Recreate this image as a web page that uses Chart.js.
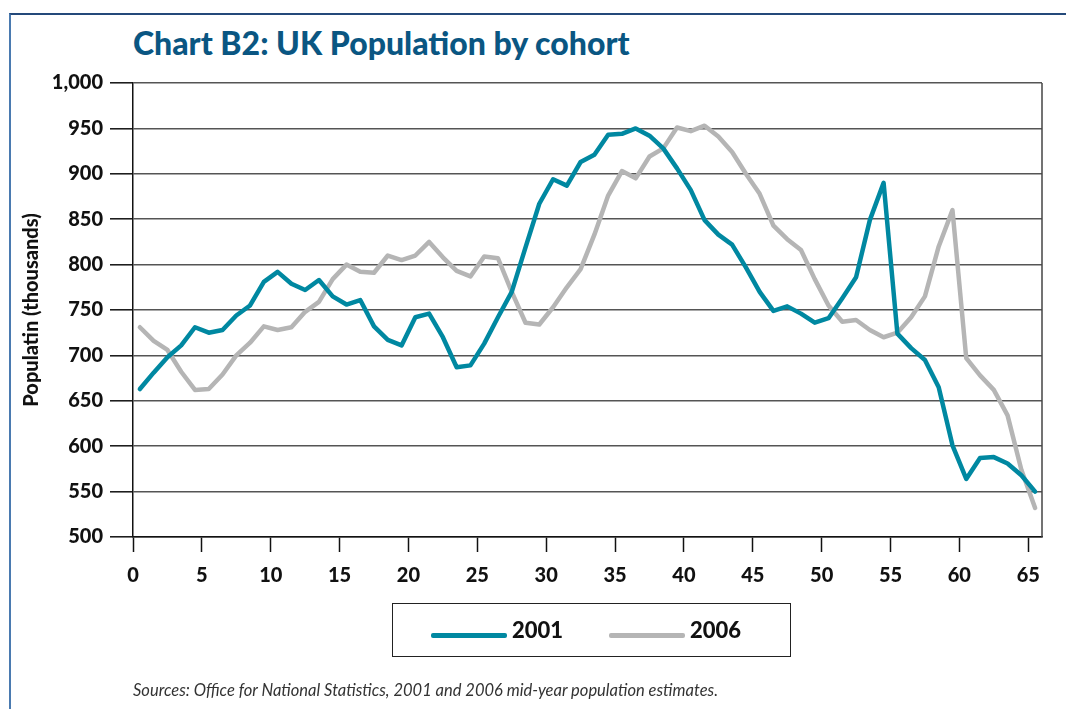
<!DOCTYPE html>
<html>
<head>
<meta charset="utf-8">
<title>Chart B2: UK Population by cohort</title>
<script src="https://cdn.jsdelivr.net/npm/chart.js@4.4.1/dist/chart.umd.min.js"></script>
<style>
    html, body { margin: 0; padding: 0; background: #fff; }
    body { width: 1066px; height: 709px; position: relative; overflow: hidden; font-family: Lato, 'Open Sans', sans-serif; }
    #frame { position: absolute; left: 9px; top: 13px; right: 0; bottom: 0; border-top: 2px solid #24497a; border-left: 2px solid #4a7ab0; }
    #title { position: absolute; left: 133px; top: 27px; font: 900 32px Lato; line-height: 31px; color: #0a5682; white-space: nowrap; }
    #chart { position: absolute; left: 0; top: 0; }
    #legend { position: absolute; left: 392px; top: 603px; width: 397px; height: 52px; border: 1.5px solid #222; }
    #legend .swatch { position: absolute; top: 29px; width: 76px; height: 4.5px; border-radius: 2px; }
    #legend .label { position: absolute; top: 13px; font: 900 22px Lato; line-height: 26px; color: #111; }
    #source { position: absolute; left: 133px; top: 680px; font: italic 16.5px Lato; color: #333; white-space: nowrap; }
</style>
</head>
<body>
<div id="frame"></div>
<div id="title">Chart B2: UK Population by cohort</div>
<canvas id="chart" width="1066" height="709"></canvas>
<div id="legend"></div>
<div id="source">Sources: Office for National Statistics, 2001 and 2006 mid-year population estimates.</div>
<script>
// ages 0..65, one point per single year of age
const ages = [0, 1, 2, 3, 4, 5, 6, 7, 8, 9, 10, 11, 12, 13, 14, 15, 16, 17, 18, 19, 20, 21,
    22, 23, 24, 25, 26, 27, 28, 29, 30, 31, 32, 33, 34, 35, 36, 37, 38, 39, 40, 41, 42, 43,
    44, 45, 46, 47, 48, 49, 50, 51, 52, 53, 54, 55, 56, 57, 58, 59, 60, 61, 62, 63, 64, 65];

// population in thousands
const pop2001 = [663, 681, 698, 711, 731, 725, 728, 744, 755, 781,
    792, 779, 772, 783, 765, 756, 761, 732, 717, 711,
    742, 746, 720, 687, 689, 713, 742, 770, 819, 867,
    894, 887, 913, 921, 943, 944, 950, 942, 928, 906,
    882, 849, 833, 822, 797, 770, 749, 754, 746, 736,
    741, 763, 786, 849, 890, 724, 708, 695, 665, 601,
    564, 587, 588, 581, 568, 550];

const pop2006 = [731, 716, 706, 682, 662, 663, 679, 700, 714, 732,
    728, 731, 748, 759, 784, 800, 792, 791, 810, 805,
    810, 825, 808, 793, 787, 809, 807, 770, 736, 734,
    753, 775, 795, 833, 876, 903, 895, 919, 928, 951,
    947, 953, 941, 924, 900, 878, 843, 828, 816, 784,
    755, 737, 739, 728, 720, 725, 742, 765, 820, 860,
    697, 678, 662, 634, 574, 532];

const yTicks = [500, 550, 600, 650, 700, 750, 800, 850, 900, 950, 1000];
const xTicks = [0, 5, 10, 15, 20, 25, 30, 35, 40, 45, 50, 55, 60, 65];

const tickFont = { family: 'Lato', weight: '900', size: 20 };

// points sit in the middle of each year band
const toPoints = (vals) => vals.map((v, i) => ({ x: ages[i] + 0.5, y: v }));

// right-hand edge of the plot area
const plotFrame = {
    id: 'plotFrame',
    beforeDatasetsDraw(chart) {
        const { ctx, chartArea: a } = chart;
        ctx.save();
        ctx.strokeStyle = '#444';
        ctx.lineWidth = 1.5;
        ctx.beginPath();
        ctx.moveTo(a.right, a.top);
        ctx.lineTo(a.right, a.bottom);
        ctx.stroke();
        ctx.restore();
    }
};

function draw() {
    const chart = new Chart(document.getElementById('chart'), {
        type: 'line',
        data: {
            datasets: [{
                label: '2001',
                data: toPoints(pop2001),
                borderColor: '#0088a1',
                borderWidth: 4.5,
                pointRadius: 0,
                tension: 0,
                borderJoinStyle: 'round',
                borderCapStyle: 'round'
            }, {
                label: '2006',
                data: toPoints(pop2006),
                borderColor: '#b5b5b5',
                borderWidth: 4.5,
                pointRadius: 0,
                tension: 0,
                borderJoinStyle: 'round',
                borderCapStyle: 'round'
            }]
        },
        options: {
            responsive: false,
            animation: false,
            locale: 'en-US',
            layout: { padding: { left: 0, top: 83, right: 24, bottom: 0 } },
            plugins: {
                legend: { display: false },
                tooltip: { enabled: false }
            },
            scales: {
                x: {
                    type: 'linear',
                    min: 0,
                    max: 66,
                    afterFit(scale) { scale.height = 172; },
                    afterBuildTicks(scale) { scale.ticks = xTicks.map(v => ({ value: v })); },
                    ticks: { autoSkip: false, maxRotation: 0, padding: 12, color: '#111', font: tickFont },
                    grid: { drawOnChartArea: false, tickLength: 15, tickColor: '#111', tickWidth: 1.5 },
                    border: { color: '#111', width: 1.5 }
                },
                y: {
                    min: 500,
                    max: 1000,
                    afterFit(scale) { scale.width = 133; },
                    afterBuildTicks(scale) { scale.ticks = yTicks.map(v => ({ value: v })); },
                    ticks: { padding: 7, color: '#111', font: tickFont },
                    grid: { color: '#555', lineWidth: 1.6, tickLength: 23, tickColor: '#111', tickWidth: 1.5 },
                    border: { color: '#111', width: 1.5 },
                    title: {
                        display: true,
                        text: 'Populatin (thousands)',
                        color: '#111',
                        font: { family: 'Lato', weight: '900', size: 20 },
                        padding: { top: 20, bottom: 0 }
                    }
                }
            }
        },
        plugins: [plotFrame]
    });

    // boxed legend under the chart
    const legend = document.getElementById('legend');
    const slots = [38, 216];
    chart.data.datasets.forEach((ds, i) => {
        const sw = document.createElement('div');
        sw.className = 'swatch';
        sw.style.left = slots[i] + 'px';
        sw.style.background = ds.borderColor;
        legend.appendChild(sw);
        const lb = document.createElement('div');
        lb.className = 'label';
        lb.style.left = (slots[i] + 81) + 'px';
        lb.textContent = ds.label;
        legend.appendChild(lb);
    });
}

Promise.all([
    document.fonts.load('900 20px Lato'),
    document.fonts.load('italic 16px Lato')
]).then(draw, draw);
</script>
</body>
</html>
